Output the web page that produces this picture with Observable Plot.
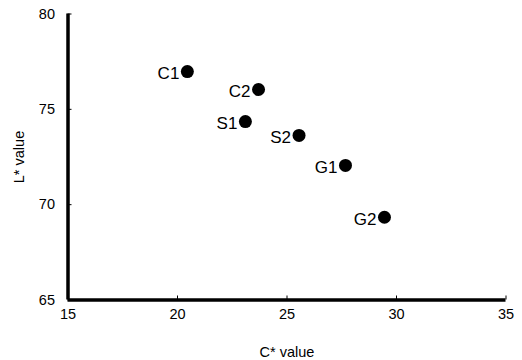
<!DOCTYPE html>
<html>
<head>
<meta charset="utf-8">
<script src="https://cdn.jsdelivr.net/npm/d3@7"></script>
<script src="https://cdn.jsdelivr.net/npm/@observablehq/plot@0.6"></script>
<style>
  html, body { margin: 0; padding: 0; background: #fff; }
  #chart svg { display: block; }
</style>
</head>
<body>
<div id="chart"></div>
<script>
const labels = ["C1", "C2", "S1", "S2", "G1", "G2"];
const cValues = [20.45, 23.7, 23.1, 25.55, 27.67, 29.45];
const lValues = [76.98, 76.04, 74.36, 73.63, 72.06, 69.34];
const xTicks = [15, 20, 25, 30, 35];
const yTicks = [65, 70, 75, 80];

const data = labels.map((name, i) => ({name, c: cValues[i], l: lValues[i]}));

const font = "Liberation Sans, Arial, sans-serif";

const chart = Plot.plot({
  width: 522,
  height: 360,
  marginLeft: 67.5,
  marginRight: 16.5,
  marginTop: 13.5,
  marginBottom: 60.5,
  style: {fontFamily: font, background: "#fff", color: "#000"},
  x: {domain: [15, 35]},
  y: {domain: [65, 80]},
  marks: [
    Plot.axisX({ticks: xTicks, tickSize: -4, label: null, text: null, strokeWidth: 1}),
    Plot.axisX({ticks: xTicks, tickSize: 0, tickPadding: 9, fontSize: 14.5, label: "C* value", labelAnchor: "center", labelArrow: "none", labelOffset: 57}),
    Plot.axisY({ticks: yTicks, tickSize: -4, label: null, text: null, strokeWidth: 1}),
    Plot.axisY({ticks: yTicks, tickSize: 0, tickPadding: 13, fontSize: 14.5, label: "L* value", labelAnchor: "center", labelArrow: "none", labelOffset: 54}),
    Plot.ruleX([15], {strokeWidth: 3.5, stroke: "#000"}),
    Plot.ruleY([65], {strokeWidth: 3.5, stroke: "#000"}),
    Plot.dot(data, {x: "c", y: "l", r: 6.5, fill: "#000", stroke: "none"}),
    Plot.text(data, {x: "c", y: "l", text: "name", textAnchor: "end", dx: -8, dy: 2, fontSize: 17, fill: "#000"})
  ]
});

document.getElementById("chart").appendChild(chart);
</script>
</body>
</html>
